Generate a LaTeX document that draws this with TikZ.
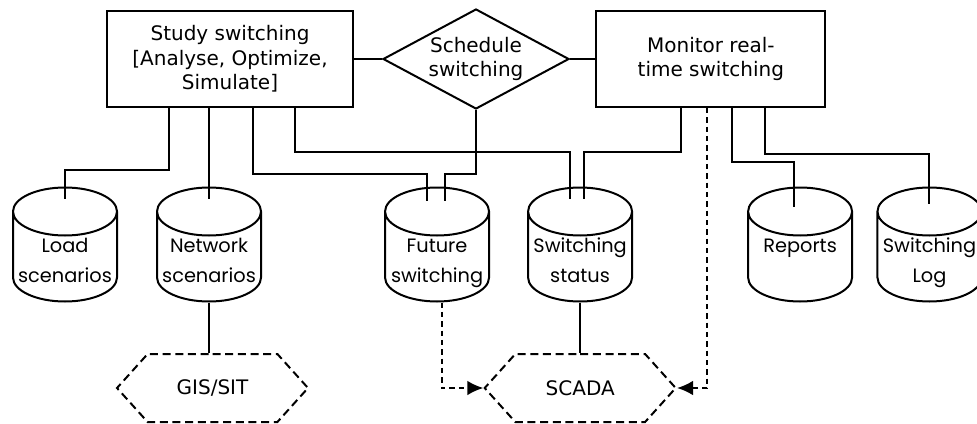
\documentclass[tikz,border=0pt]{standalone}
\usepackage{fontspec}
\setmainfont{DejaVu Sans}
\newfontfamily\storefont{Poppins}
\usetikzlibrary{shapes.geometric, shapes.symbols, positioning, arrows.meta}
\tikzset{
    >={Latex[length=12pt,width=11pt]}, % filled heads on the dashed links
    task/.style={draw, minimum width=184.5pt, minimum height=72pt, align=center,
        font=\fontsize{15pt}{18.4pt}\selectfont},
    decision/.style={diamond, draw, aspect=1.86, inner sep=0pt, minimum width=139.5pt,
        minimum height=75pt, align=center, font=\fontsize{15pt}{18.4pt}\selectfont},
    store/.style={cylinder, shape border rotate=90, aspect=0.5, draw, fill=white,
        inner sep=0pt, minimum width=78pt, minimum height=85.5pt, align=center,
        text width=72pt, text height=10pt, text depth=17.5pt,
        execute at begin node={\storefont\fontsize{14.5pt}{22.5pt}\selectfont}},
    system/.style={signal, signal to=west and east, signal pointer angle=96, draw,
        dash pattern=on 6pt off 3.5pt, minimum width=143.25pt, minimum height=51pt,
        font=\fontsize{15pt}{18pt}\selectfont},
    link/.style={dash pattern=on 4pt off 3pt, ->},
}
\begin{document}
\begin{tikzpicture}[x=0.75pt, y=-0.75pt, line width=1.5pt]
    \useasboundingbox (0,0) rectangle (977,424);
    % top row
    \node[task] (study) at (230,59) {Study switching\\{}[Analyse, Optimize,\\Simulate]};
    \node[decision, right=21pt of study] (sched) {Schedule\\switching};
    \node[task, minimum width=171.75pt, right=19pt of sched] (monitor) {Monitor real-\\time switching};
    % data stores
    \node[store] (load) at (65,257) {Load\\scenarios};
    \node[store, right=28.5pt of load] (net) {Network\\scenarios};
    \node[store, right=91.5pt of net] (fut) {Future\\switching};
    \node[store, right=27.75pt of fut] (stat) {Switching\\status};
    \node[store, right=85.5pt of stat] (rep) {Reports};
    \node[store, right=17.5pt of rep] (log) {Switching\\Log};
    % outside systems
    \node[system] (gis) at (212.5,388) {GIS/SIT};
    \node[system, right=130.5pt of gis] (scada) {SCADA};

    \draw (study) -- (sched);
    \draw (sched) -- (monitor);
    \draw ([xshift=-45.75pt]study.south) -- ++(0,62) -| ([yshift=-9pt]load.north);
    \draw (study.south -| net.north) -- ([yshift=-9pt]net.north);
    \draw ([xshift=17.25pt]study.south) -- ++(0,66) -| ([xshift=-7.9pt,yshift=-11pt]fut.north);
    \draw ([xshift=48.75pt]study.south) -- ++(0,44) -| ([xshift=-7.9pt,yshift=-9pt]stat.north);
    \draw (sched.south) -- ++(0,64) -| ([xshift=5.6pt,yshift=-11pt]fut.north);
    \draw ([xshift=-22.1pt]monitor.south) -- ++(0,44) -| ([xshift=2.6pt,yshift=-9pt]stat.north);
    \draw ([xshift=16.1pt]monitor.south) -- ++(0,54) -| ([xshift=-4.5pt,yshift=-15pt]rep.north);
    \draw ([xshift=40.9pt]monitor.south) -- ++(0,46) -| ([yshift=-13pt]log.north);
    \draw (net.south) -- (net.south |- gis.north);
    \draw (scada.north |- stat.south) -- (scada.north);
    \draw[link] ([xshift=3.4pt]fut.south) |- (scada.west);
    \draw[link] ([xshift=-2.6pt]monitor.south) |- (scada.east);
\end{tikzpicture}
\end{document}
